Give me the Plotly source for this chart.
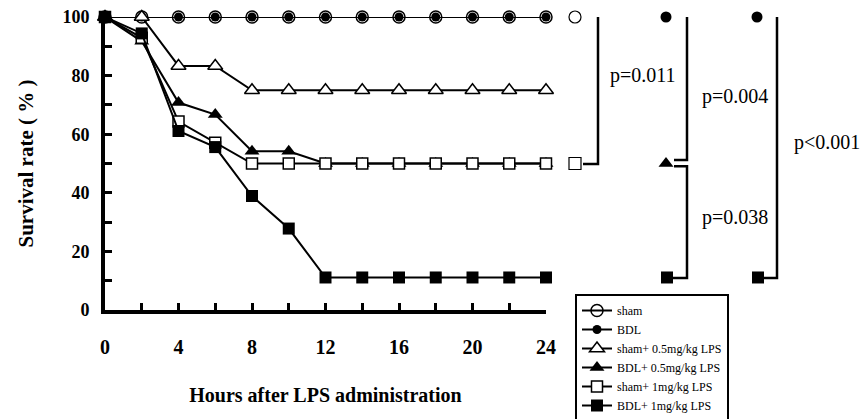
import plotly.graph_objects as go

hours = [0, 2, 4, 6, 8, 10, 12, 14, 16, 18, 20, 22, 24]
sham = [100] * 13
bdl = [100] * 13
sham_05 = [100, 100, 83.3, 83.3, 75, 75, 75, 75, 75, 75, 75, 75, 75]
bdl_05 = [100, 91.7, 70.8, 66.7, 54.2, 54.2, 50, 50, 50, 50, 50, 50, 50]
sham_1 = [100, 92.9, 64.3, 57.1, 50, 50, 50, 50, 50, 50, 50, 50, 50]
bdl_1 = [100, 94.4, 61.1, 55.6, 38.9, 27.8, 11.1, 11.1, 11.1, 11.1, 11.1, 11.1, 11.1]

names = ["sham", "BDL", "sham+ 0.5mg/kg LPS", "BDL+ 0.5mg/kg LPS", "sham+ 1mg/kg LPS", "BDL+ 1mg/kg LPS"]
x_ticks = [0, 4, 8, 12, 16, 20, 24]
y_ticks = [0, 20, 40, 60, 80, 100]
p_labels = ["p=0.011", "p=0.004", "p=0.038", "p<0.001"]

W, H = 863, 419
SERIF = "Liberation Serif"

series = [
    (sham, dict(symbol="circle-open", size=12, color="black", line=dict(width=1.5))),
    (bdl, dict(symbol="circle", size=9, color="black")),
    (sham_05, dict(symbol="triangle-up", size=13, color="white", line=dict(width=1.5, color="black"))),
    (bdl_05, dict(symbol="triangle-up", size=13, color="black")),
    (sham_1, dict(symbol="square", size=11, color="white", line=dict(width=1.5, color="black"))),
    (bdl_1, dict(symbol="square", size=12, color="black")),
]

fig = go.Figure()
for (vals, mk), nm in zip(series, names):
    fig.add_trace(go.Scatter(
        x=hours, y=vals, name=nm, mode="lines+markers",
        line=dict(color="black", width=2), marker=mk, cliponaxis=False,
    ))

# Right-side group markers (at final values)
def side(xpix, vals, mk):
    fig.add_trace(go.Scatter(x=[xpix], y=[vals[-1]], xaxis="x2", yaxis="y", mode="markers",
                             marker=mk, showlegend=False, cliponaxis=False, hoverinfo="skip"))

side(575, sham, dict(symbol="circle-open", size=12, color="black", line=dict(width=1.2)))
side(575, sham_1, dict(symbol="square", size=12, color="white", line=dict(width=1.2, color="black")))
side(666, bdl, dict(symbol="circle", size=11, color="black"))
side(666, bdl_05, dict(symbol="triangle-up", size=13, color="black"))
side(667, bdl_1, dict(symbol="square", size=12, color="black"))
side(757, bdl, dict(symbol="circle", size=11, color="black"))
side(758, bdl_1, dict(symbol="square", size=12, color="black"))

lw = dict(color="black", width=2.5)
brackets = [
    "M 583 101.5 L 598 101.5 L 598 49.8 L 583 49.8",
    "M 670 100.4 L 687 100.4 L 687 51.2 L 674 51.2",
    "M 674 49.1 L 687 49.1 L 687 10.9 L 673 10.9",
    "M 762 100.4 L 777 100.4 L 777 10.9 L 763 10.9",
]
for p in brackets:
    fig.add_shape(type="path", path=p, xref="x2", yref="y", line=lw)

ann_pos = [(643, 80.2), (735, 72.7), (735, 31.7), (827, 57.3)]
for txt, (ax_, ay_) in zip(p_labels, ann_pos):
    fig.add_annotation(x=ax_, y=ay_, xref="x2", yref="y", text=txt, showarrow=False,
                       font=dict(family=SERIF, size=20, color="black"))

fig.update_layout(
    width=W, height=H,
    margin=dict(l=0, r=0, t=0, b=0, autoexpand=False),
    paper_bgcolor="white", plot_bgcolor="rgba(0,0,0,0)",
    font=dict(family=SERIF, color="black"),
    showlegend=True,
    legend=dict(x=575 / W, y=(H - 294) / H, xanchor="left", yanchor="top",
                bordercolor="black", borderwidth=2, bgcolor="white",
                font=dict(family=SERIF, size=12, color="black"),
                tracegroupgap=0, itemwidth=30),
    xaxis=dict(domain=[105 / W, 546 / W], range=[0, 24], tickvals=x_ticks, automargin=False,
               ticks="inside", ticklen=7, tickwidth=2.5, tickcolor="black",
               minor=dict(dtick=2, tick0=0, ticks="inside", ticklen=7, tickwidth=2.5, tickcolor="black"),
               showline=True, linecolor="black", linewidth=4, showgrid=False, zeroline=False,
               ticklabelstandoff=16,
               tickfont=dict(family=SERIF, size=20, color="black", weight="bold"),
               title=dict(text="<b>Hours after LPS administration</b>", standoff=32,
                          font=dict(family=SERIF, size=20, color="black"))),
    yaxis=dict(domain=[(H - 310) / H, (H - 17) / H], range=[0, 100], tickvals=y_ticks, automargin=False,
               ticks="inside", ticklen=7, tickwidth=2.5, tickcolor="black",
               minor=dict(dtick=10, tick0=0, ticks="inside", ticklen=7, tickwidth=2.5, tickcolor="black"),
               showline=True, linecolor="black", linewidth=4, showgrid=False, zeroline=False,
               ticklabelstandoff=8,
               tickfont=dict(family=SERIF, size=18, color="black", weight="bold"),
               title=dict(text="<b>Survival rate ( % )</b>", standoff=24,
                          font=dict(family=SERIF, size=21, color="black"))),
    xaxis2=dict(domain=[0, 1], range=[0, W], anchor="y", visible=False, showgrid=False,
                zeroline=False, automargin=False),
)

fig.write_html("out.html")
